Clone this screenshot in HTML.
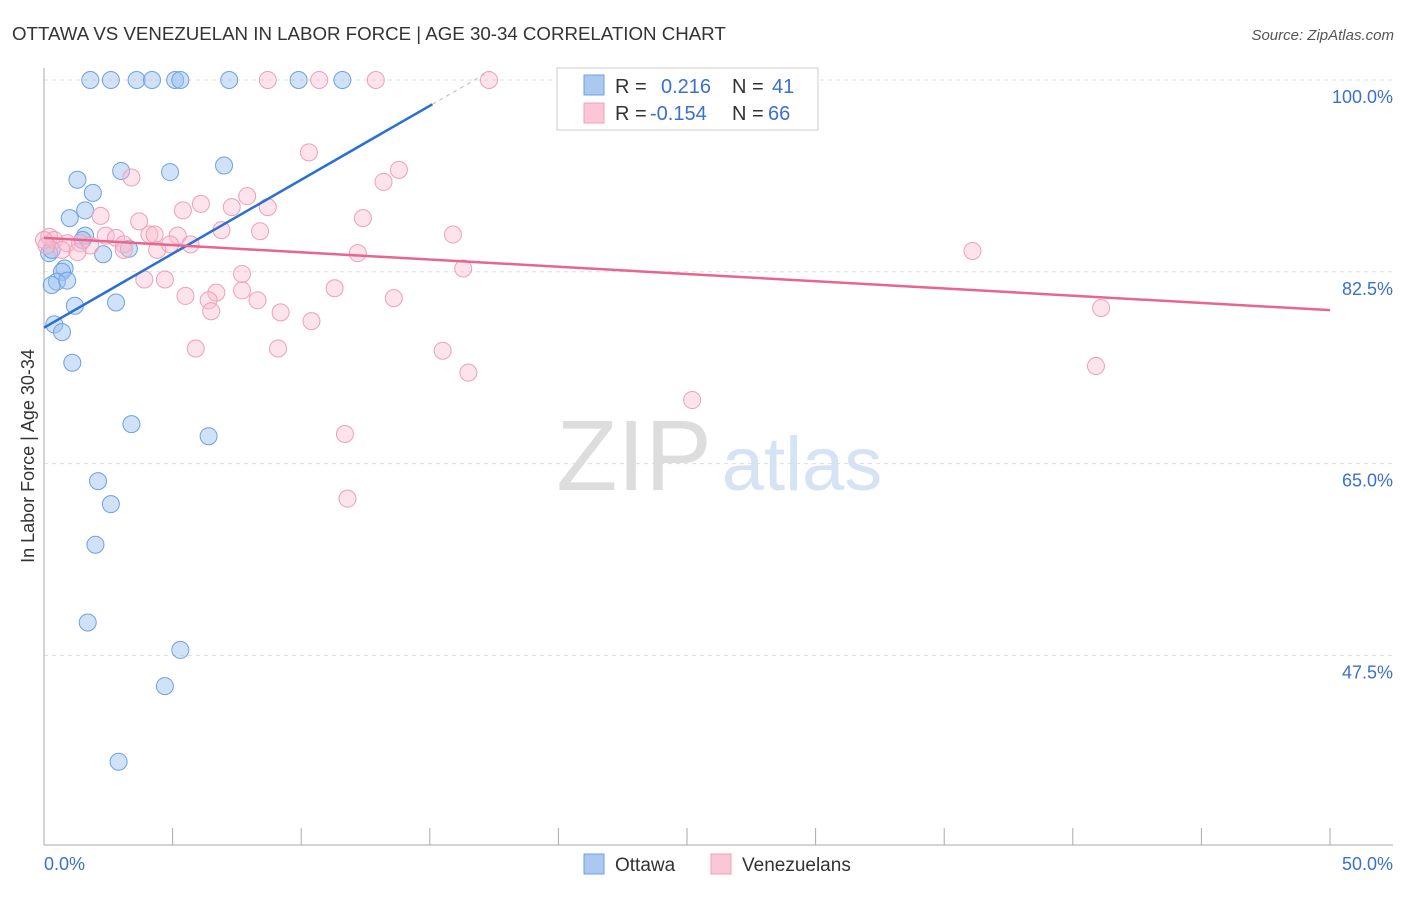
<!DOCTYPE html>
<html><head><meta charset="utf-8">
<style>
body{margin:0;background:#fff;font-family:"Liberation Sans",sans-serif;}
svg text{font-family:"Liberation Sans",sans-serif;}
</style></head>
<body>
<svg id="chart" width="1406" height="892" viewBox="0 0 1406 892" xmlns="http://www.w3.org/2000/svg">
<text x="12" y="40" font-size="18.7" fill="#333">OTTAWA VS VENEZUELAN IN LABOR FORCE | AGE 30-34 CORRELATION CHART</text>
<text x="1394" y="40" font-size="15" fill="#555" font-style="italic" text-anchor="end">Source: ZipAtlas.com</text>
<g>
<text x="634" y="490" font-size="100" fill="#ddd" font-family="Liberation Serif" text-anchor="middle">ZIP</text>
<text x="802" y="490" font-size="76" fill="#d6e3f5" text-anchor="middle">atlas</text>
</g>
<g id="grid"></g>
<g id="axes"></g>
<g id="points"></g>
<g id="lines"></g>
<text transform="translate(34,456) rotate(-90)" font-size="18" fill="#333" text-anchor="middle">In Labor Force | Age 30-34</text>
<g>
<rect x="557" y="68" width="261" height="62" fill="#fff" stroke="#ccc"/>
<rect x="584" y="75" width="20" height="20" fill="#aac8f0" stroke="#6fa0e0"/>
<text x="615" y="93" font-size="20" fill="#333">R =</text>
<text x="661" y="93" font-size="20" fill="#3a70d0">0.216</text>
<text x="732" y="93" font-size="20" fill="#333">N =</text>
<text x="772" y="93" font-size="20" fill="#3a70d0">41</text>
<rect x="584" y="103" width="20" height="20" fill="#fbc6d5" stroke="#eea0b8"/>
<text x="615" y="120" font-size="20" fill="#333">R =</text>
<text x="650" y="120" font-size="20" fill="#3a70d0">-0.154</text>
<text x="732" y="120" font-size="20" fill="#333">N =</text>
<text x="768" y="120" font-size="20" fill="#3a70d0">66</text>
</g>
<g>
<rect x="584" y="854" width="20" height="20" fill="#aac8f0" stroke="#6fa0e0"/>
<text x="615" y="871" font-size="19" fill="#333">Ottawa</text>
<rect x="711" y="854" width="20" height="20" fill="#fbc6d5" stroke="#eea0b8"/>
<text x="742" y="871" font-size="19" fill="#333">Venezuelans</text>
</g>
</svg>
<script>
const yTicks=[100,82.5,65,47.5];
const yTickLabels=["100.0%","82.5%","65.0%","47.5%"];
const xTickLabels=["0.0%","50.0%"];
const ottawaX=[1.8,2.6,3.6,4.2,5.1,5.3,7.2,9.9,11.6,3.0,4.9,7.0,1.3,1.9,1.6,1.0,1.6,1.5,3.3,2.3,0.2,0.8,0.7,0.5,0.3,0.9,1.2,2.8,0.4,0.7,1.1,3.4,6.4,2.1,2.6,2.0,1.7,5.3,4.7,2.9,0.3];
const ottawaY=[100,100,100,100,100,100,100,100,100,91.7,91.6,92.2,90.9,89.7,88.1,87.4,85.8,85.4,84.6,84.1,84.2,82.8,82.5,81.6,81.3,81.7,79.4,79.7,77.7,77.0,74.2,68.6,67.5,63.4,61.3,57.6,50.5,48.0,44.7,37.8,84.5];
const venX=[8.7,10.7,12.9,17.3,10.3,13.8,3.4,13.2,7.9,6.1,8.7,5.4,7.3,2.2,3.7,12.4,6.9,8.4,15.9,4.1,5.2,4.3,2.4,2.8,0.2,0.4,0.9,1.4,1.8,3.1,3.1,4.4,5.7,4.9,0.7,1.3,12.2,36.1,16.3,7.7,3.9,4.7,6.7,5.5,7.7,6.4,8.3,11.3,13.6,9.2,6.5,10.4,41.1,5.9,9.1,15.5,16.5,40.9,25.2,11.7,11.8,0.0,0.1];
const venY=[100,100,100,100,93.4,91.8,91.1,90.7,89.4,88.7,88.4,88.1,88.4,87.6,87.1,87.4,86.3,86.2,85.9,85.9,85.8,85.9,85.8,85.6,85.7,85.4,85.1,85.1,84.9,85.0,84.5,84.5,85.0,85.0,84.5,84.3,84.2,84.4,82.8,82.3,81.8,81.8,80.6,80.3,80.8,79.9,79.9,81.0,80.1,78.8,78.9,78.0,79.2,75.5,75.5,75.3,73.3,73.9,70.8,67.7,61.8,85.4,84.9];
const ottawaTrend=[77.4,1.35]; // intercept, slope per %
const venTrend=[85.6,-0.132];

const NS="http://www.w3.org/2000/svg";
const X=v=>44+v*25.72;
const Y=v=>80+(100-v)*10.96;
function mk(tag,attrs,parent){const e=document.createElementNS(NS,tag);for(const k in attrs)e.setAttribute(k,attrs[k]);parent.appendChild(e);return e;}
const grid=document.getElementById('grid'),axes=document.getElementById('axes'),pts=document.getElementById('points'),lines=document.getElementById('lines');
yTicks.forEach((t,i)=>{
 const l=mk('line',{x1:44,x2:1393,y1:Y(t),y2:Y(t),stroke:'#ddd','stroke-dasharray':'4,4'},grid);
 
 
 const tx=mk('text',{x:1393,y:Y(t)+23,'font-size':18,fill:'#3a70d0','text-anchor':'end'},axes);
 tx.textContent=yTickLabels[i];
 
 
});
const ax=mk('line',{x1:44,x2:44,y1:68,y2:845,stroke:'#aaa'},axes);


const bx=mk('line',{x1:44,x2:1393,y1:845,y2:845,stroke:'#aaa'},axes);


for(let i=0;i<=10;i++){
 const t=mk('line',{x1:X(i*5),x2:X(i*5),y1:828,y2:845,stroke:'#aaa'},axes);
 
 
}
[[0,'start',44],[50,'end',1393]].forEach((d,i)=>{
 const tx=mk('text',{x:d[2],y:870,'font-size':18,fill:'#3a70d0','text-anchor':d[1]},axes);
 tx.textContent=xTickLabels[i];
 
 
});
ottawaX.forEach((x,i)=>{
 const c=mk('circle',{cx:X(x),cy:Y(ottawaY[i]),r:8.5,fill:'rgba(150,190,240,0.45)',stroke:'#6fa0e0','stroke-width':1},pts);
 
 
});
venX.forEach((x,i)=>{
 const c=mk('circle',{cx:X(x),cy:Y(venY[i]),r:8.5,fill:'rgba(250,185,205,0.4)',stroke:'#eea0b8','stroke-width':1},pts);
 
 
});
const f=(t,x)=>t[0]+t[1]*x;
const l1=mk('line',{x1:X(0),y1:Y(f(ottawaTrend,0)),x2:X(15.1),y2:Y(f(ottawaTrend,15.1)),stroke:'#2a6fd6','stroke-width':2.5},lines);


const l1d=mk('line',{x1:X(15.1),y1:Y(f(ottawaTrend,15.1)),x2:X(17.3),y2:Y(f(ottawaTrend,17.3)),stroke:'#bbb','stroke-width':1,'stroke-dasharray':'4,4'},lines);


const l2=mk('line',{x1:X(0),y1:Y(f(venTrend,0)),x2:X(50),y2:Y(f(venTrend,50)),stroke:'#e8658f','stroke-width':2.5},lines);


</script>
</body></html>
